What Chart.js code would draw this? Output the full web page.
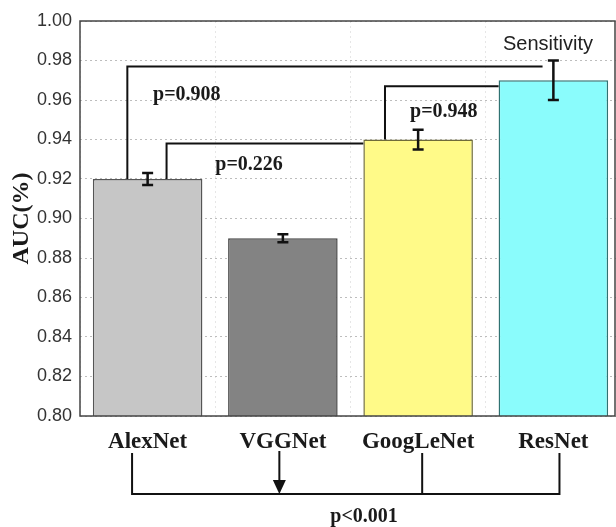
<!DOCTYPE html>
<html lang="en">
<head>
<meta charset="UTF-8">
<title>AUC by network</title>
<script src="https://cdn.jsdelivr.net/npm/chart.js"></script>
<style>
  html, body { margin: 0; padding: 0; background: #fff; overflow: hidden; width: 616px; height: 527px; }
</style>
</head>
<body>
<canvas id="aucChart" width="622" height="527"></canvas>
<script>
// data
const models = ['AlexNet', 'VGGNet', 'GoogLeNet', 'ResNet'];
const aucValues = [0.92, 0.89, 0.94, 0.97];
const aucErrors = [0.003, 0.002, 0.005, 0.010];
const yMin = 0.80;
const yMax = 1.00;
const yStep = 0.02;
// pairwise comparisons: bracket heights (in AUC units) and p values
const pairTops = [0.977, 0.938, 0.967];
const pairLabels = ['p=0.908', 'p=0.226', 'p=0.948'];
const overallLabel = 'p<0.001';
const errorLabel = 'Sensitivity';

const barColors = ['#c6c6c6', '#838383', '#fffa88', '#8afcfc'];
const barBorders = ['#555555', '#444444', '#6f6b3a', '#2f7272'];

const serifBold = size => 'bold ' + size + 'px "Liberation Serif", "Times New Roman", serif';

// brackets, error bars, p values, outer frame
const annotations = {
  id: 'annotations',
  afterDatasetsDraw(chart) {
    const ctx = chart.ctx;
    const a = chart.chartArea;
    const x = chart.scales.x;
    const y = chart.scales.y;
    const cx = i => x.getPixelForValue(i);
    const cw = cx(1) - cx(0);
    const half = chart.getDatasetMeta(0).data[0].width / 2;

    ctx.save();

    // frame (the original is cropped just inside its right edge)
    ctx.strokeStyle = '#444';
    ctx.lineWidth = 1.5;
    ctx.strokeRect(a.left, a.top, Math.min(a.right, 615) - a.left, a.bottom - a.top);

    // error bars
    ctx.strokeStyle = '#111';
    ctx.lineWidth = 2.5;
    aucValues.forEach((v, i) => {
      const t = y.getPixelForValue(v + aucErrors[i]);
      const b = y.getPixelForValue(v - aucErrors[i]);
      const c = cx(i);
      ctx.beginPath();
      ctx.moveTo(c, t); ctx.lineTo(c, b);
      ctx.moveTo(c - 5.5, t); ctx.lineTo(c + 5.5, t);
      ctx.moveTo(c - 5.5, b); ctx.lineTo(c + 5.5, b);
      ctx.stroke();
    });

    // comparison brackets
    ctx.lineWidth = 2;
    ctx.lineJoin = 'miter';
    const bracket = (x0, v0, top, x1) => {
      ctx.beginPath();
      ctx.moveTo(x0, y.getPixelForValue(v0));
      ctx.lineTo(x0, y.getPixelForValue(top));
      ctx.lineTo(x1, y.getPixelForValue(top));
      ctx.stroke();
    };
    bracket(cx(0) - 0.15 * cw, aucValues[0], pairTops[0], cx(3) - 0.08 * cw);
    bracket(cx(0) + 0.14 * cw, aucValues[0], pairTops[1], cx(2) - half);
    bracket(cx(2) - 0.245 * cw, aucValues[2], pairTops[2], cx(3) - half);

    ctx.fillStyle = '#1a1a1a';
    ctx.textAlign = 'center';
    ctx.textBaseline = 'middle';
    ctx.font = serifBold(20);
    ctx.fillText(pairLabels[0], cx(0) + 0.29 * cw, y.getPixelForValue(0.9625));
    ctx.fillText(pairLabels[1], cx(1) - 0.25 * cw, y.getPixelForValue(0.927));
    ctx.fillText(pairLabels[2], cx(2) + 0.19 * cw, y.getPixelForValue(0.954));

    ctx.font = '20px "Liberation Sans", Arial, sans-serif';
    ctx.fillStyle = '#222';
    ctx.fillText(errorLabel, cx(3) - 0.04 * cw, y.getPixelForValue(0.988));

    // bottom bracket joining all models
    const yTop = a.bottom + 37;
    const yBase = a.bottom + 78;
    const legs = [cx(0) - 0.115 * cw, cx(2) + 0.03 * cw, cx(3) + 0.045 * cw];
    const arrowX = cx(1) - 0.026 * cw;
    ctx.strokeStyle = '#111';
    ctx.lineWidth = 2;
    ctx.beginPath();
    legs.forEach(lx => { ctx.moveTo(lx, yTop); ctx.lineTo(lx, yBase); });
    ctx.moveTo(legs[0] - 1, yBase);
    ctx.lineTo(legs[2] + 1, yBase);
    ctx.moveTo(arrowX, yTop - 2);
    ctx.lineTo(arrowX, yBase - 12);
    ctx.stroke();
    ctx.fillStyle = '#111';
    ctx.beginPath();
    ctx.moveTo(arrowX - 6.5, yBase - 14);
    ctx.lineTo(arrowX + 6.5, yBase - 14);
    ctx.lineTo(arrowX, yBase);
    ctx.closePath();
    ctx.fill();

    ctx.fillStyle = '#1a1a1a';
    ctx.font = serifBold(20);
    ctx.fillText(overallLabel, cx(1) + 0.6 * cw, a.bottom + 101);

    ctx.restore();
  }
};

new Chart(document.getElementById('aucChart'), {
  type: 'bar',
  data: {
    labels: models,
    datasets: [{
      label: 'AUC',
      data: aucValues,
      backgroundColor: barColors,
      borderColor: barBorders,
      borderWidth: 1.5,
      borderSkipped: false,
      barPercentage: 0.9,
      categoryPercentage: 0.9
    }]
  },
  options: {
    responsive: false,
    animation: false,
    layout: { padding: { top: 21, right: 1, left: 0, bottom: 0 } },
    plugins: {
      legend: { display: false },
      tooltip: { enabled: false }
    },
    scales: {
      x: {
        afterFit: s => { s.height = 111; },
        border: { display: false, dash: [2, 3] },
        grid: { color: '#e6e6e6', drawTicks: false },
        ticks: { color: '#1a1a1a', padding: 12, font: { family: '"Liberation Serif", serif', weight: 'bold', size: 23 } }
      },
      y: {
        min: yMin,
        max: yMax,
        afterFit: s => { s.width = 80; },
        border: { display: false, dash: [2, 3] },
        grid: { color: '#bdbdbd', drawTicks: false },
        ticks: {
          stepSize: yStep,
          padding: 8,
          color: '#333',
          font: { family: '"Liberation Sans", Arial, sans-serif', size: 18 },
          callback: v => Number(v).toFixed(2)
        },
        title: {
          display: true,
          text: 'AUC(%)',
          color: '#1a1a1a',
          padding: { top: 7, bottom: 0 },
          font: { family: '"Liberation Serif", serif', weight: 'bold', size: 24 }
        }
      }
    }
  },
  plugins: [annotations]
});
</script>
</body>
</html>
